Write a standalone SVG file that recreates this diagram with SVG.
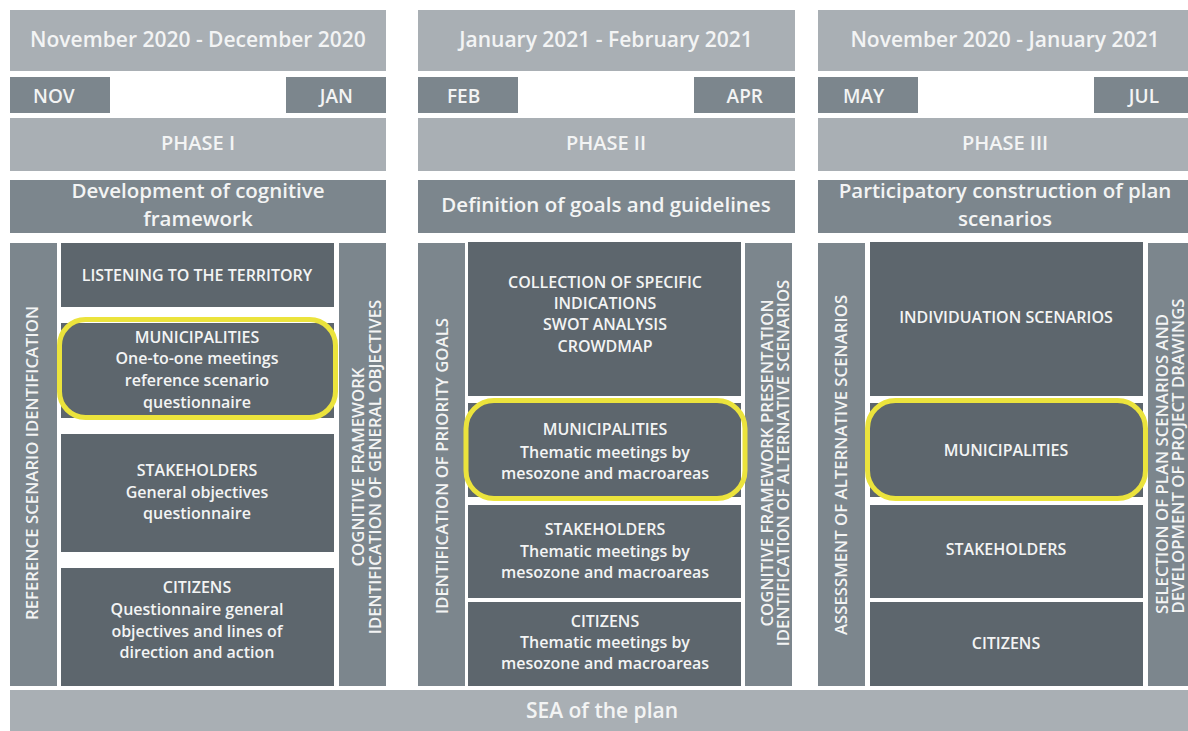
<svg xmlns="http://www.w3.org/2000/svg" width="1188" height="731" viewBox="0 0 1188 731">
<style>
text{font-family:"Open Sans","Noto Sans","Liberation Sans",sans-serif;font-weight:600;fill:#f3f4f4;text-anchor:middle}
.light{fill:#a9afb4}
.mid{fill:#7c868d}
.dark{fill:#5d666d}
.hl{fill:none;stroke:#ebe33c;stroke-width:5}
.h1{font-size:21px}
.mo{font-size:19px}
.ph{font-size:20px}
.tt{font-size:20.5px}
.bx{font-size:16px}
.sd{font-size:16.8px}
.st{text-anchor:start}
.en{text-anchor:end}
</style>
<rect width="1188" height="731" fill="#ffffff"/>

<g id="col1-header">
<rect class="light" x="10" y="10" width="376" height="61"/>
<text class="h1" x="198" y="47">November 2020 - December 2020</text>
<rect class="mid" x="10" y="77" width="100" height="36"/>
<text class="mo st" x="33" y="103">NOV</text>
<rect class="mid" x="286" y="77" width="100" height="36"/>
<text class="mo en" x="353" y="103">JAN</text>
<rect class="light" x="10" y="118" width="376" height="53"/>
<text class="ph" x="198" y="150">PHASE I</text>
<rect class="mid" x="10" y="180" width="376" height="53"/>
<text class="tt" x="198" y="198">Development of cognitive</text>
<text class="tt" x="198" y="226">framework</text>
</g>

<g id="col2-header">
<rect class="light" x="418" y="10" width="377" height="61"/>
<text class="h1" x="606" y="47">January 2021 - February 2021</text>
<rect class="mid" x="418" y="77" width="100" height="36"/>
<text class="mo st" x="447" y="103">FEB</text>
<rect class="mid" x="694" y="77" width="101" height="36"/>
<text class="mo en" x="763" y="103">APR</text>
<rect class="light" x="418" y="118" width="377" height="53"/>
<text class="ph" x="606" y="150">PHASE II</text>
<rect class="mid" x="418" y="180" width="377" height="53"/>
<text class="tt" x="606" y="212">Definition of goals and guidelines</text>
</g>

<g id="col3-header">
<rect class="light" x="818" y="10" width="370" height="61"/>
<text class="h1" x="1005" y="47">November 2020 - January 2021</text>
<rect class="mid" x="818" y="77" width="100" height="36"/>
<text class="mo st" x="843" y="103">MAY</text>
<rect class="mid" x="1094" y="77" width="94" height="36"/>
<text class="mo en" x="1159" y="103">JUL</text>
<rect class="light" x="818" y="118" width="370" height="53"/>
<text class="ph" x="1005" y="150">PHASE III</text>
<rect class="mid" x="818" y="180" width="370" height="53"/>
<text class="tt" x="1005" y="198">Participatory construction of plan</text>
<text class="tt" x="1005" y="226">scenarios</text>
</g>

<g id="col1-sidebars">
<rect class="mid" x="10" y="243" width="47" height="443"/>
<text class="sd" transform="translate(38,463) rotate(-90)">REFERENCE SCENARIO IDENTIFICATION</text>
<rect class="mid" x="339" y="243" width="47" height="443"/>
<text class="sd" transform="translate(364,467) rotate(-90)">COGNITIVE FRAMEWORK</text>
<text class="sd" transform="translate(381,467) rotate(-90)">IDENTIFICATION OF GENERAL OBJECTIVES</text>
</g>

<g id="col1-listening">
<rect class="dark" x="61" y="243" width="273" height="64"/>
<text class="bx" x="197" y="281">LISTENING TO THE TERRITORY</text>
</g>
<g id="col1-municipalities">
<rect class="dark" x="61" y="323" width="273" height="95"/>
<rect class="hl" x="59.5" y="319.5" width="276" height="98" rx="26"/>
<text class="bx" x="197" y="343">MUNICIPALITIES</text>
<text class="bx" x="197" y="364">One-to-one meetings</text>
<text class="bx" x="197" y="386">reference scenario</text>
<text class="bx" x="197" y="408">questionnaire</text>
</g>
<g id="col1-stakeholders">
<rect class="dark" x="61" y="434" width="273" height="118"/>
<text class="bx" x="197" y="476">STAKEHOLDERS</text>
<text class="bx" x="197" y="498">General objectives</text>
<text class="bx" x="197" y="519">questionnaire</text>
</g>
<g id="col1-citizens">
<rect class="dark" x="61" y="568" width="273" height="118"/>
<text class="bx" x="197" y="593">CITIZENS</text>
<text class="bx" x="197" y="615">Questionnaire general</text>
<text class="bx" x="197" y="637">objectives and lines of</text>
<text class="bx" x="197" y="658">direction and action</text>
</g>

<g id="col2-sidebars">
<rect class="mid" x="418" y="243" width="47" height="443"/>
<text class="sd" transform="translate(448,466) rotate(-90)">IDENTIFICATION OF PRIORITY GOALS</text>
<rect class="mid" x="745" y="243" width="47" height="443"/>
<text class="sd" transform="translate(773,463) rotate(-90)">COGNITIVE FRAMEWORK PRESENTATION</text>
<text class="sd" transform="translate(789,463) rotate(-90)">IDENTIFICATION OF ALTERNATIVE SCENARIOS</text>
</g>
<g id="col2-collection">
<rect class="dark" x="468" y="242" width="273" height="154"/>
<text class="bx" x="605" y="288">COLLECTION OF SPECIFIC</text>
<text class="bx" x="605" y="309">INDICATIONS</text>
<text class="bx" x="605" y="330">SWOT ANALYSIS</text>
<text class="bx" x="605" y="352">CROWDMAP</text>
</g>
<g id="col2-municipalities">
<rect class="dark" x="468" y="403" width="273" height="94"/>
<rect class="hl" x="466" y="400.5" width="279" height="98" rx="28"/>
<text class="bx" x="605" y="435">MUNICIPALITIES</text>
<text class="bx" x="605" y="458">Thematic meetings by</text>
<text class="bx" x="605" y="479">mesozone and macroareas</text>
</g>
<g id="col2-stakeholders">
<rect class="dark" x="468" y="505" width="273" height="93"/>
<text class="bx" x="605" y="535">STAKEHOLDERS</text>
<text class="bx" x="605" y="557">Thematic meetings by</text>
<text class="bx" x="605" y="578">mesozone and macroareas</text>
</g>
<g id="col2-citizens">
<rect class="dark" x="468" y="602" width="273" height="84"/>
<text class="bx" x="605" y="627">CITIZENS</text>
<text class="bx" x="605" y="648">Thematic meetings by</text>
<text class="bx" x="605" y="669">mesozone and macroareas</text>
</g>

<g id="col3-sidebars">
<rect class="mid" x="818" y="243" width="47" height="443"/>
<text class="sd" transform="translate(847,465) rotate(-90)">ASSESSMENT OF ALTERNATIVE SCENARIOS</text>
<rect class="mid" x="1148" y="243" width="40" height="443"/>
<text class="sd" transform="translate(1168,464) rotate(-90)">SELECTION OF PLAN SCENARIOS AND</text>
<text class="sd" transform="translate(1184,456) rotate(-90)">DEVELOPMENT OF PROJECT DRAWINGS</text>
</g>
<g id="col3-individuation">
<rect class="dark" x="870" y="242" width="273" height="154"/>
<text class="bx" x="1006" y="323">INDIVIDUATION SCENARIOS</text>
</g>
<g id="col3-municipalities">
<rect class="dark" x="870" y="403" width="273" height="94"/>
<rect class="hl" x="867.5" y="400.5" width="278" height="98" rx="28"/>
<text class="bx" x="1006" y="456">MUNICIPALITIES</text>
</g>
<g id="col3-stakeholders">
<rect class="dark" x="870" y="505" width="273" height="93"/>
<text class="bx" x="1006" y="555">STAKEHOLDERS</text>
</g>
<g id="col3-citizens">
<rect class="dark" x="870" y="602" width="273" height="84"/>
<text class="bx" x="1006" y="649">CITIZENS</text>
</g>

<g id="sea">
<rect class="light" x="10" y="690" width="1178" height="41"/>
<text class="h1" x="602" y="718">SEA of the plan</text>
</g>
<g id="connectors"/>
</svg>
